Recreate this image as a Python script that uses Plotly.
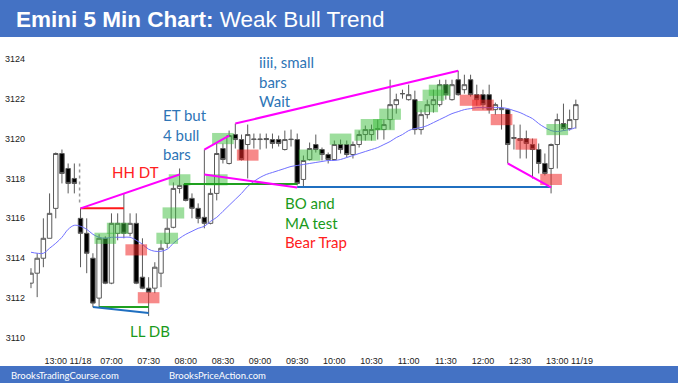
import plotly.graph_objects as go

# ---------------- data ----------------
bar_open = [3112.75, 3113.25, 3114.0, 3115.0, 3116.5, 3119.25, 3118.5, 3118.0,
            3116.0, 3115.25, 3114.0, 3112.0, 3115.0, 3112.75, 3115.25, 3115.75,
            3115.25, 3115.75, 3113.05, 3112.5, 3112.5, 3113.25, 3114.75, 3115.55,
            3117.5, 3117.7, 3117.0, 3116.5, 3116.05, 3115.75, 3117.25, 3119.5,
            3118.75, 3120.2, 3119.95, 3119.7, 3119.95, 3119.95, 3120.0, 3119.95,
            3119.95, 3119.45, 3119.97, 3119.95, 3117.95, 3118.95, 3119.7, 3119.45,
            3119.2, 3118.95, 3119.7, 3119.7, 3119.2, 3119.7, 3120.2, 3120.2,
            3120.45, 3120.45, 3120.95, 3121.7, 3122.25, 3121.95, 3121.95, 3120.45,
            3121.2, 3121.7, 3121.7, 3122.7, 3121.95, 3122.95, 3122.45, 3122.95,
            3122.2, 3122.2, 3122.2, 3121.45, 3121.45, 3121.45, 3120.0, 3120.0,
            3120.0, 3119.7, 3119.45, 3118.75, 3118.5, 3119.7, 3120.75, 3120.5,
            3120.95]
bar_high = [3113.5, 3114.25, 3116.0, 3117.25, 3119.3, 3119.45, 3118.75, 3118.75,
            3116.5, 3116.0, 3114.25, 3115.2, 3115.1, 3116.25, 3116.25, 3117.25,
            3116.25, 3116.25, 3115.0, 3113.05, 3113.8, 3114.9, 3116.0, 3117.8,
            3118.5, 3117.75, 3117.25, 3116.75, 3119.45, 3117.5, 3119.75, 3119.75,
            3120.4, 3120.75, 3120.2, 3120.7, 3120.25, 3120.25, 3120.25, 3120.25,
            3120.15, 3120.4, 3120.45, 3120.25, 3119.15, 3119.8, 3120.2, 3119.55,
            3119.3, 3119.9, 3119.95, 3119.9, 3119.85, 3120.4, 3120.65, 3120.7,
            3120.95, 3120.95, 3122.95, 3122.25, 3122.45, 3122.7, 3122.4, 3121.45,
            3121.95, 3122.45, 3122.95, 3122.95, 3122.95, 3123.4, 3123.2, 3123.2,
            3122.7, 3122.45, 3122.7, 3121.8, 3121.95, 3121.5, 3120.7, 3120.7,
            3120.4, 3120.0, 3119.75, 3119.25, 3119.75, 3121.25, 3121.75, 3121.45,
            3121.95]
bar_low = [3112.5, 3112.05, 3113.55, 3115.0, 3116.0, 3117.75, 3117.25, 3117.25,
           3113.55, 3113.25, 3111.55, 3111.55, 3112.7, 3112.7, 3114.9, 3115.0,
           3115.1, 3112.7, 3112.45, 3111.1, 3112.25, 3112.55, 3114.5, 3115.5,
           3117.25, 3116.85, 3116.0, 3115.75, 3115.5, 3115.7, 3116.9, 3118.75,
           3118.7, 3119.5, 3118.9, 3118.0, 3119.5, 3119.45, 3119.5, 3119.5,
           3119.6, 3119.4, 3119.6, 3117.65, 3117.55, 3118.9, 3119.3, 3118.9,
           3118.75, 3118.9, 3119.25, 3119.05, 3119.0, 3119.55, 3119.9, 3119.9,
           3119.95, 3119.95, 3120.45, 3121.25, 3122.0, 3121.9, 3120.2, 3120.2,
           3121.0, 3121.3, 3121.6, 3121.95, 3121.9, 3122.15, 3122.25, 3122.1,
           3121.65, 3121.45, 3121.25, 3121.2, 3120.45, 3118.75, 3119.45, 3119.0,
           3119.0, 3118.0, 3118.25, 3118.15, 3117.25, 3118.5, 3120.4, 3120.4,
           3120.5]
bar_close = [3113.25, 3114.0, 3115.0, 3116.25, 3119.25, 3118.25, 3117.75, 3117.75,
             3115.25, 3114.25, 3111.75, 3115.0, 3112.75, 3115.75, 3115.75, 3115.25,
             3115.75, 3112.75, 3112.5, 3112.3, 3113.55, 3114.5, 3115.5, 3117.5,
             3117.65, 3116.9, 3116.5, 3116.0, 3115.75, 3117.25, 3119.25, 3118.95,
             3120.15, 3119.95, 3118.95, 3120.2, 3119.97, 3119.97, 3119.95, 3119.75,
             3119.75, 3119.95, 3119.95, 3117.75, 3118.9, 3119.5, 3119.45, 3119.2,
             3118.95, 3119.7, 3119.45, 3119.2, 3119.7, 3120.2, 3120.45, 3120.45,
             3120.5, 3120.7, 3121.7, 3121.95, 3122.25, 3122.2, 3120.45, 3121.2,
             3121.7, 3121.95, 3122.7, 3122.2, 3122.7, 3122.2, 3122.7, 3122.2,
             3121.95, 3121.7, 3121.45, 3121.7, 3121.5, 3119.7, 3120.05, 3119.9,
             3119.75, 3119.45, 3118.75, 3118.25, 3119.7, 3120.95, 3120.5, 3120.95,
             3121.7]
moving_avg = [3114.3, 3114.25, 3114.25, 3114.5, 3114.75, 3115.05, 3115.45, 3115.65,
              3115.6, 3115.45, 3115.2, 3115.05, 3115.0, 3115.05, 3115.05, 3115.05,
              3115.05, 3114.9, 3114.7, 3114.45, 3114.35, 3114.35, 3114.45, 3114.75,
              3115.0, 3115.2, 3115.35, 3115.5, 3115.6, 3115.85, 3116.05, 3116.35,
              3116.65, 3116.95, 3117.25, 3117.6, 3117.85, 3118.05, 3118.2, 3118.3,
              3118.4, 3118.5, 3118.6, 3118.65, 3118.7, 3118.75, 3118.8, 3118.85,
              3118.9, 3118.9, 3118.95, 3119.05, 3119.15, 3119.25, 3119.35, 3119.45,
              3119.55, 3119.7, 3119.85, 3120.05, 3120.2, 3120.4, 3120.5, 3120.55,
              3120.65, 3120.8, 3120.95, 3121.1, 3121.25, 3121.35, 3121.45, 3121.5,
              3121.55, 3121.55, 3121.55, 3121.55, 3121.55, 3121.5, 3121.4, 3121.3,
              3121.15, 3121.0, 3120.75, 3120.55, 3120.4, 3120.35, 3120.4, 3120.45,
              3120.55]

time_labels = ["13:00", "11/18", "07:00", "07:30", "08:00", "08:30", "09:00", "09:30",
               "10:00", "10:30", "11:00", "11:30", "12:00", "12:30", "13:00", "11/19"]
time_label_bars = [4, 8, 13, 19, 25, 31, 37, 43, 49, 55, 61, 67, 73, 79, 85, 89]
price_ticks = [3110, 3112, 3114, 3116, 3118, 3120, 3122, 3124]

green_box_bars = [12, 14, 22, 23, 24, 30, 31, 45, 50, 54, 55, 57, 58, 64, 65, 66, 85]
green_box_prices = [3115.0, 3115.5, 3115.0, 3116.27, 3117.93, 3117.93, 3120.0, 3119.17,
                    3119.97, 3120.17, 3120.7, 3120.7, 3121.22, 3121.6, 3122.17, 3122.42,
                    3120.45]
red_box_bars = [17, 19, 35, 71, 73, 76, 80, 84]
red_box_prices = [3114.42, 3112.02, 3119.17, 3121.92, 3121.67, 3120.95, 3119.72, 3117.95]

# trend lines: (bar0, price0) -> (bar1, price1), colour
line_bar0 = [8, 8, 11, 10, 24.7, 28, 33, 28, 43, 77]
line_price0 = [3116.5, 3116.5, 3111.55, 3111.55, 3117.72, 3119.45, 3120.75, 3118.2, 3117.57, 3118.75]
line_bar1 = [15, 24, 19, 19, 43, 32, 69, 43, 84, 84]
line_price1 = [3116.5, 3118.2, 3111.55, 3111.25, 3117.72, 3120.15, 3123.4, 3117.55, 3117.57, 3117.55]
line_colors = ["#ff1a1a", "#ff00ff", "#1fa01f", "#1f6fc0", "#1fa01f", "#ff00ff",
               "#ff00ff", "#ff00ff", "#1f6fc0", "#ff00ff"]

# day separator (dotted)
gap_bar = 7.85
gap_low, gap_high = 3116.8, 3118.75

# ---------------- figure ----------------
idx = list(range(len(bar_open)))
fig = go.Figure()

fig.add_trace(go.Candlestick(
    x=idx, open=bar_open, high=bar_high, low=bar_low, close=bar_close,
    increasing=dict(line=dict(color="#5a5a5a", width=1), fillcolor="#ffffff"),
    decreasing=dict(line=dict(color="#5a5a5a", width=1), fillcolor="#000000"),
    whiskerwidth=0, showlegend=False, hoverinfo="skip"))

fig.add_trace(go.Scatter(x=idx, y=moving_avg, mode="lines",
                         line=dict(color="#7070ff", width=1, shape="spline"),
                         showlegend=False, hoverinfo="skip"))

fig.add_trace(go.Scatter(x=[gap_bar, gap_bar], y=[gap_low, gap_high], mode="lines",
                         line=dict(color="#999999", width=1.5, dash="dot"),
                         showlegend=False, hoverinfo="skip"))

shapes = []
BOX_HALF_W = 1.75
BOX_HALF_H = 0.28
for b, p in zip(green_box_bars, green_box_prices):
    shapes.append(dict(type="rect", xref="x", yref="y", x0=b - BOX_HALF_W, x1=b + BOX_HALF_W,
                       y0=p - BOX_HALF_H, y1=p + BOX_HALF_H, line=dict(width=0),
                       fillcolor="rgba(60,190,60,0.5)", layer="above"))
for b, p in zip(red_box_bars, red_box_prices):
    shapes.append(dict(type="rect", xref="x", yref="y", x0=b - BOX_HALF_W, x1=b + BOX_HALF_W,
                       y0=p - BOX_HALF_H, y1=p + BOX_HALF_H, line=dict(width=0),
                       fillcolor="rgba(240,40,40,0.55)", layer="above"))
for b0, p0, b1, p1, c in zip(line_bar0, line_price0, line_bar1, line_price1, line_colors):
    shapes.append(dict(type="line", xref="x", yref="y", x0=b0, y0=p0, x1=b1, y1=p1,
                       line=dict(color=c, width=2), layer="above"))

# header and footer bands
BAND = "#4472c4"
shapes.append(dict(type="rect", xref="paper", yref="paper", x0=-0.1, x1=1.1,
                   y0=(350 - 37) / 310, y1=1.2, fillcolor=BAND, line=dict(width=0), layer="above"))
shapes.append(dict(type="rect", xref="paper", yref="paper", x0=-0.1, x1=1.1,
                   y0=-0.2, y1=(350 - 366) / 310, fillcolor=BAND, line=dict(width=0), layer="above"))

TXT_FONT = "'Liberation Sans Narrow', Lato, 'Liberation Sans', Arial, sans-serif"
BLUE_TXT = "#2e75b6"
GREEN_TXT = "#1a9a1a"
RED_TXT = "#ff2020"

annotations = [
    dict(x=12.8, y=3118.3, xref="x", yref="y", text="HH DT", showarrow=False,
         xanchor="left", yanchor="middle", font=dict(color=RED_TXT, size=15, family=TXT_FONT)),
    dict(x=21.0, y=3121.75, xref="x", yref="y", text="ET but<br>4 bull<br>bars", showarrow=False,
         xanchor="left", yanchor="top", align="left",
         font=dict(color=BLUE_TXT, size=15, family=TXT_FONT)),
    dict(x=36.5, y=3124.4, xref="x", yref="y", text="iiii, small<br>bars<br>Wait", showarrow=False,
         xanchor="left", yanchor="top", align="left",
         font=dict(color=BLUE_TXT, size=15, family=TXT_FONT)),
    dict(x=40.7, y=3117.3, xref="x", yref="y",
         text="BO and<br>MA test<br><span style='color:" + RED_TXT + "'>Bear Trap</span>",
         showarrow=False, xanchor="left", yanchor="top", align="left",
         font=dict(color=GREEN_TXT, size=15, family=TXT_FONT)),
    dict(x=19.2, y=3110.35, xref="x", yref="y", text="LL DB", showarrow=False,
         xanchor="center", yanchor="middle", font=dict(color=GREEN_TXT, size=15, family=TXT_FONT)),
    dict(x=0.0, y=(350 - 19) / 310, xref="paper", yref="paper", xshift=-16,
         text="<b>Emini 5 Min Chart:</b> Weak Bull Trend", showarrow=False,
         xanchor="left", yanchor="middle",
         font=dict(color="white", size=22.5, family="Liberation Sans, Arial, sans-serif")),
    dict(x=0.0, y=(350 - 375) / 310, xref="paper", yref="paper", xshift=-21,
         text="BrooksTradingCourse.com", showarrow=False, xanchor="left", yanchor="middle",
         font=dict(color="white", size=9.5, family="Lato, sans-serif")),
    dict(x=0.0, y=(350 - 375) / 310, xref="paper", yref="paper", xshift=137,
         text="BrooksPriceAction.com", showarrow=False, xanchor="left", yanchor="middle",
         font=dict(color="white", size=9.5, family="Lato, sans-serif")),
]

fig.update_layout(
    width=678, height=383,
    margin=dict(l=30, r=0, t=40, b=33),
    paper_bgcolor="white", plot_bgcolor="white",
    boxgap=0.28, boxgroupgap=0,
    shapes=shapes, annotations=annotations,
    showlegend=False,
    xaxis=dict(range=[-0.16, 104.5], tickmode="array", tickvals=time_label_bars,
               ticktext=time_labels, tickangle=0, showgrid=False, zeroline=False,
               showline=False, ticks="", ticklabelstandoff=4, rangeslider=dict(visible=False),
               tickfont=dict(size=9, color="#222222", family="Liberation Sans, Arial, sans-serif")),
    yaxis=dict(range=[3109.4, 3124.94], tickmode="array", tickvals=price_ticks,
               showgrid=False, zeroline=False, showline=False, ticks="", ticklabelstandoff=4,
               tickfont=dict(size=9, color="#222222", family="Liberation Sans, Arial, sans-serif")),
)

fig.write_html("out.html", config={"displayModeBar": False},
               post_script="document.body.style.margin='0';document.body.style.overflow='hidden';")
